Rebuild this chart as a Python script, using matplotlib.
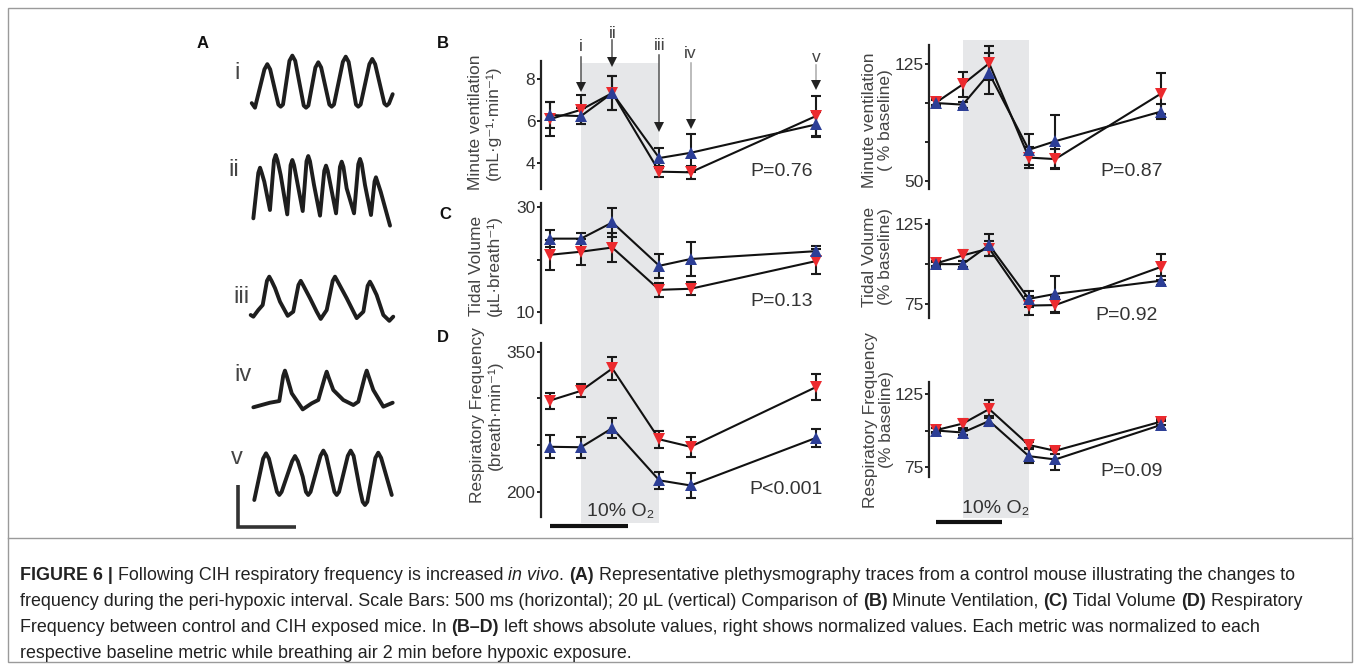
import numpy as np
import matplotlib
matplotlib.use("Agg")
import matplotlib.pyplot as plt
from matplotlib.patches import Rectangle
from matplotlib.lines import Line2D
from matplotlib.transforms import blended_transform_factory

plt.rcParams['font.family'] = ['Liberation Sans', 'DejaVu Sans']

W, H = 1360, 670
fig = plt.figure(figsize=(W / 100, H / 100), dpi=100)
fig.patch.set_facecolor('white')


def fx(x):
    return x / W


def fy(y):
    return 1 - y / H


# ---------------- data ----------------
time_min = [-2, 0, 2, 5, 7, 15]
hypoxia_start, hypoxia_end = 0, 5
timebar_len = 5  # min

# absolute values
mv_ctrl = [6.3, 6.25, 7.35, 4.25, 4.5, 5.85]
mv_ctrl_err = [0.6, 0.4, 0.8, 0.48, 0.9, 0.6]
mv_cih = [6.1, 6.55, 7.35, 3.6, 3.57, 6.25]
mv_cih_err = [0.8, 0.7, 0.8, 0.25, 0.3, 0.95]

tv_ctrl = [24.0, 24.0, 27.1, 18.8, 20.1, 21.6]
tv_ctrl_err = [1.6, 1.0, 2.7, 2.3, 3.2, 0.9]
tv_cih = [20.9, 21.5, 22.3, 14.2, 14.4, 19.7]
tv_cih_err = [2.9, 2.5, 2.7, 1.3, 1.2, 2.4]

rf_ctrl = [248, 247.5, 268, 212, 206.5, 257.5]
rf_ctrl_err = [12.5, 11, 10.5, 9, 13, 9.5]
rf_cih = [297.5, 308, 332, 256, 248, 312]
rf_cih_err = [8.5, 7, 12, 9, 11, 14]

# normalized (% baseline)
mvn_ctrl = [100, 99, 119, 70, 75.5, 94.5]
mvn_ctrl_err = [2, 2, 13, 10, 17, 5]
mvn_cih = [100.5, 112, 125.5, 65, 64, 106]
mvn_cih_err = [2, 8, 11, 7, 6.5, 13]

tvn_ctrl = [100, 100, 112, 78.2, 81.3, 89.6]
tvn_ctrl_err = [1.5, 2, 7, 5, 11.5, 3]
tvn_cih = [100.5, 105.5, 109.8, 74, 74.3, 98.2]
tvn_cih_err = [1.5, 3.6, 5, 6, 5, 8]

rfn_ctrl = [100, 98.6, 106.6, 82.3, 80, 103.8]
rfn_ctrl_err = [1.5, 2, 3.5, 5, 7, 3]
rfn_cih = [100.3, 104.8, 114.8, 90, 86, 106.1]
rfn_cih_err = [1.5, 3, 6, 2, 2, 2]

p_values = ["P=0.76", "P=0.13", "P<0.001", "P=0.87", "P=0.92", "P=0.09"]
trace_labels = ["i", "ii", "iii", "iv", "v"]

# plethysmography traces (time ms, volume uL relative to trace baseline)
trace_i_t = [15, 43, 125, 150, 175, 246, 266, 286, 342, 367, 392, 466, 486, 506, 567, 592,
             617, 688, 708, 728, 805, 830, 855, 919, 939, 959, 1035, 1060, 1085, 1165, 1185,
             1205, 1237]
trace_i_v = [2.3, 0.1, 18.5, 21.0, 18.5, 1.6, 0.6, 1.6, 22.6, 25.1, 22.6, 1.1, 0.1, 1.1, 19.4,
             21.9, 19.4, 1.6, 0.6, 1.6, 22.1, 24.6, 22.1, 1.6, 0.6, 1.6, 21.0, 23.5, 21.0, 2.1,
             1.1, 2.1, 6.6]
trace_ii_t = [29, 72, 87, 102, 124, 173, 208, 223, 238, 266, 323, 352, 367, 382, 457, 490,
              505, 520, 555, 607, 644, 659, 674, 746, 780, 795, 810, 838, 902, 939, 954, 969,
              997, 1049, 1080, 1092, 1104, 1133, 1214]
trace_ii_v = [-1.6, 20.2, 22.7, 20.2, 16.0, 2.4, 26.3, 28.8, 26.3, 19.2, 0.3, 23.9, 26.4,
              23.9, 1.9, 25.8, 28.3, 25.8, 14.4, -0.3, 21.2, 23.7, 21.2, 0.8, 23.1, 25.6,
              23.1, 12.8, 0.8, 24.4, 26.9, 24.4, 14.4, 0.0, 16.1, 18.1, 16.1, 11.2, -5.1]
trace_iii_t = [6, 29, 72, 110, 147, 167, 187, 217, 260, 327, 375, 420, 440, 460, 520, 578,
               613, 665, 717, 737, 757, 838, 925, 983, 1020, 1040, 1060, 1098, 1156, 1208, 1242]
trace_iii_v = [1.4, 0.6, 3.8, 6.2, 17.8, 19.8, 17.8, 14.3, 7.8, 1.0, 3.0, 15.8, 17.8, 15.8,
               9.5, 3.0, -0.5, 3.8, 17.8, 19.8, 17.8, 9.5, -0.1, 3.0, 15.4, 17.4, 15.4, 11.0,
               1.4, -1.4, 0.6]
trace_iv_t = [29, 101, 173, 254, 288, 303, 318, 362, 457, 535, 592, 650, 665, 680, 722, 809,
              896, 939, 997, 1012, 1027, 1069, 1156, 1237]
trace_iv_v = [-1.1, 0.0, 1.1, 1.9, 14.0, 16.5, 14.0, 5.6, -2.1, 0.8, 2.4, 13.5, 16.0, 13.5,
              7.2, 2.4, 0.0, 1.6, 14.0, 16.5, 14.0, 7.2, -0.8, 1.1]
trace_v_t = [37, 114, 139, 164, 234, 254, 274, 365, 390, 415, 457, 485, 505, 525, 611, 636,
             661, 732, 752, 772, 848, 873, 898, 954, 977, 997, 1017, 1087, 1112, 1137, 1229]
trace_v_v = [-2.4, 17.5, 20.0, 17.5, 1.5, 0.0, 1.5, 16.2, 18.7, 16.2, 8.8, 1.5, 0.0, 1.5,
             18.8, 21.3, 18.8, 1.5, 0.0, 1.5, 18.8, 21.3, 18.8, 2.4, -3.3, -4.8, -3.3, 17.8,
             20.3, 17.8, 0.0]
scalebar_ms = 500
scalebar_ul = 20

# ---------------- style ----------------
RED = '#ec2a2e'
BLUE = '#2c3e96'
BAND = '#e6e7e9'
SPINE = '#222222'
TXT = '#333333'
XLIM = (-2.56, 16.5)


def px_axes(left, top, right, bottom):
    return fig.add_axes([fx(left), fy(bottom), (right - left) / W, (bottom - top) / H])


def make_panel(rect, ylim, ticks, ticklabels):
    ax = px_axes(*rect)
    ax.set_facecolor('none')
    ax.set_xlim(*XLIM)
    ax.set_ylim(*ylim)
    for s in ['top', 'right', 'bottom']:
        ax.spines[s].set_visible(False)
    ax.spines['left'].set_linewidth(1.6)
    ax.spines['left'].set_color(SPINE)
    ax.set_xticks([])
    ax.set_yticks(ticks)
    ax.set_yticklabels(ticklabels)
    ax.tick_params(axis='y', direction='out', length=3, width=1.4, color=SPINE,
                   labelsize=12.5, labelcolor=TXT, pad=1)
    return ax


def draw_series(ax, ctrl, ctrl_err, cih, cih_err):
    for vals, err in [(cih, cih_err), (ctrl, ctrl_err)]:
        ax.errorbar(time_min, vals, yerr=err, fmt='none', ecolor='#1a1a1a',
                    elinewidth=1.5, capsize=3.6, capthick=1.5, zorder=2, clip_on=False)
        ax.plot(time_min, vals, color='#111111', lw=1.5, zorder=3, clip_on=False)
    ax.plot(time_min, cih, ls='none', marker='v', ms=8, color=RED, mew=0, zorder=4, clip_on=False)
    ax.plot(time_min, ctrl, ls='none', marker='^', ms=8, color=BLUE, mew=0, zorder=5, clip_on=False)


L_LEFT, L_RIGHT = 540.9, 540.9 + (XLIM[1] - XLIM[0]) * 15.66
R_LEFT, R_RIGHT = 929.0, 929.0 + (XLIM[1] - XLIM[0]) * 13.2

axB = make_panel((L_LEFT, 60.7, L_RIGHT, 189.3), (2.76, 8.89), [4, 6, 8], ['4', '6', '8'])
axC = make_panel((L_LEFT, 203.3, L_RIGHT, 322.7), (7.9, 30.77), [10, 20, 30], ['10', '', '30'])
axD = make_panel((L_LEFT, 343.3, L_RIGHT, 516.7), (173, 359), [200, 250, 300, 350],
                 ['200', '', '', '350'])
axBn = make_panel((R_LEFT, 45, R_RIGHT, 189.3), (44.6, 137.3), [50, 75, 100, 125],
                  ['50', '', '', '125'])
axCn = make_panel((R_LEFT, 220, R_RIGHT, 318.3), (66, 127.7), [75, 100, 125], ['75', '', '125'])
axDn = make_panel((R_LEFT, 381.7, R_RIGHT, 476.7), (68.1, 133.7), [75, 100, 125],
                  ['75', '', '125'])

draw_series(axB, mv_ctrl, mv_ctrl_err, mv_cih, mv_cih_err)
draw_series(axC, tv_ctrl, tv_ctrl_err, tv_cih, tv_cih_err)
draw_series(axD, rf_ctrl, rf_ctrl_err, rf_cih, rf_cih_err)
draw_series(axBn, mvn_ctrl, mvn_ctrl_err, mvn_cih, mvn_cih_err)
draw_series(axCn, tvn_ctrl, tvn_ctrl_err, tvn_cih, tvn_cih_err)
draw_series(axDn, rfn_ctrl, rfn_ctrl_err, rfn_cih, rfn_cih_err)

# hypoxia bands, time bars and 10% O2 labels
for ax, top, bottom, bar_y, lab_y in [(axB, 63.3, 523, 526, 511.7), (axBn, 40, 518, 522.3, 508.3)]:
    tr = blended_transform_factory(ax.transData, fig.transFigure)
    band = Rectangle((hypoxia_start, fy(bottom)), hypoxia_end - hypoxia_start,
                     fy(top) - fy(bottom), transform=tr, facecolor=BAND,
                     edgecolor='none', zorder=-5)
    fig.add_artist(band)
    fig.add_artist(Line2D([time_min[0], time_min[0] + timebar_len], [fy(bar_y), fy(bar_y)],
                          transform=tr, color='#111111', lw=3, solid_capstyle='butt'))
    fig.text((hypoxia_start + hypoxia_end) / 2, fy(lab_y), '10% O₂', transform=tr,
             ha='center', va='center', fontsize=14, color=TXT)

# y labels
ylabels = [
    (484.5, 122.5, 'Minute ventilation\n(mL·g⁻¹·min⁻¹)'),
    (485.5, 266, 'Tidal Volume\n(µL·breath⁻¹)'),
    (486.5, 415, 'Respiratory Frequency\n(breath·min⁻¹)'),
    (877.5, 120, 'Minute ventilation\n( % baseline)'),
    (877.5, 257, 'Tidal Volume\n(% baseline)'),
    (878.5, 420, 'Respiratory Frequency\n(% baseline)'),
]
for x, y, s in ylabels:
    fig.text(fx(x), fy(y), s, rotation=90, ha='center', va='center', multialignment='center',
             fontsize=12.5, color='#444444', linespacing=1.15)

# P values
for (x, y), s in zip([(813, 171.7), (813, 301.7), (823, 490), (1163, 171.7), (1158, 315),
                      (1163, 471.7)], p_values):
    fig.text(fx(x), fy(y), s, ha='right', va='center', fontsize=14, color=TXT)

# arrows over panel B (trace time points)
trB = blended_transform_factory(axB.transData, fig.transFigure)
arrow_specs = [  # (time index, label y, line top, tip y, line colour)
    (1, 46.7, 57, 91, '#555555'),
    (2, 33, 40, 66, '#555555'),
    (3, 45, 55, 131, '#555555'),
    (4, 53, 63, 128, '#aaaaaa'),
    (5, 57, 65, 89, '#aaaaaa'),
]
for (idx, ly, ltop, tip, col), lab in zip(arrow_specs, trace_labels):
    t = time_min[idx]
    fig.text(t, fy(ly), lab, transform=trB, ha='center', va='center', fontsize=12.5, color='#444444')
    fig.add_artist(Line2D([t, t], [fy(ltop), fy(tip - 4)], transform=trB, color=col, lw=1.1))
    fig.add_artist(Line2D([t], [fy(tip - 4)], transform=trB, marker='v', ms=6.5, mew=0,
                          color='#222222', ls='none'))

# ---------------- panel A traces ----------------
axA = px_axes(230, 40, 400, 535)
axA.set_xlim(-173.4, 1300.5)
axA.set_ylim(0, 237.6)
axA.axis('off')
axA.set_facecolor('none')
trace_offsets = [205.0, 153.6, 104.2, 62.4, 19.2]
traces = [(trace_i_t, trace_i_v), (trace_ii_t, trace_ii_v), (trace_iii_t, trace_iii_v),
          (trace_iv_t, trace_iv_v), (trace_v_t, trace_v_v)]
for (tt, vv), off in zip(traces, trace_offsets):
    axA.plot(tt, np.array(vv) + off, color='#1e1e1e', lw=2.8, solid_joinstyle='round',
             solid_capstyle='round')
sb_x, sb_y = -101, 4.0
axA.plot([sb_x, sb_x, sb_x + scalebar_ms], [sb_y + scalebar_ul, sb_y, sb_y],
         color='#333333', lw=2.6, solid_joinstyle='miter', solid_capstyle='butt')
for (x, y), lab in zip([(236.7, 73.3), (233.3, 170), (241.7, 296.7), (243.3, 375), (236.7, 458)],
                       trace_labels):
    fig.text(fx(x), fy(y), lab, ha='center', va='center', fontsize=17, color='#444444')

# panel letters
for (x, y), lab in zip([(203, 44), (443, 44), (445, 215), (443, 338)], ['A', 'B', 'C', 'D']):
    fig.text(fx(x), fy(y), lab, ha='center', va='center', fontsize=12, fontweight='bold',
             color='#111111')

# ---------------- frame and caption ----------------
fig.add_artist(Rectangle((fx(8), fy(662)), (1352 - 8) / W, (662 - 8) / H,
                         transform=fig.transFigure, fill=False, edgecolor='#9a9a9a', lw=1))
fig.add_artist(Line2D([fx(8), fx(1352)], [fy(538), fy(538)], transform=fig.transFigure,
                      color='#9a9a9a', lw=1))

renderer = fig.canvas.get_renderer()
CAP_SIZE = 12.9


def text_width(s, weight, style):
    t1 = fig.text(0, 0, s + '|', fontsize=CAP_SIZE, fontweight=weight, fontstyle=style)
    t2 = fig.text(0, 0, '|', fontsize=CAP_SIZE, fontweight=weight, fontstyle=style)
    w = t1.get_window_extent(renderer).width - t2.get_window_extent(renderer).width
    t1.remove()
    t2.remove()
    return w


def rich_line(x, y, segs):
    for s, weight, style in segs:
        fig.text(fx(x), fy(y), s, fontsize=CAP_SIZE, fontweight=weight, fontstyle=style,
                 ha='left', va='baseline', color='#222222')
        x += text_width(s, weight, style)


N, B, I = ('normal', 'normal'), ('bold', 'normal'), ('normal', 'italic')
caption = [
    [('FIGURE 6 |', *B), (' Following CIH respiratory frequency is increased ', *N), ('in vivo', *I),
     ('. ', *N), ('(A)', *B),
     (' Representative plethysmography traces from a control mouse illustrating the changes to', *N)],
    [('frequency during the peri-hypoxic interval. Scale Bars: 500 ms (horizontal); 20 µL (vertical) '
      'Comparison of ', *N), ('(B)', *B), (' Minute Ventilation, ', *N), ('(C)', *B),
     (' Tidal Volume ', *N), ('(D)', *B), (' Respiratory', *N)],
    [('Frequency between control and CIH exposed mice. In ', *N), ('(B–D)', *B),
     (' left shows absolute values, right shows normalized values. Each metric was normalized to each',
      *N)],
    [('respective baseline metric while breathing air 2 min before hypoxic exposure.', *N)],
]
for i, segs in enumerate(caption):
    rich_line(20, 580 + 26 * i, segs)

fig.savefig('out.png', dpi=100, facecolor='white')
